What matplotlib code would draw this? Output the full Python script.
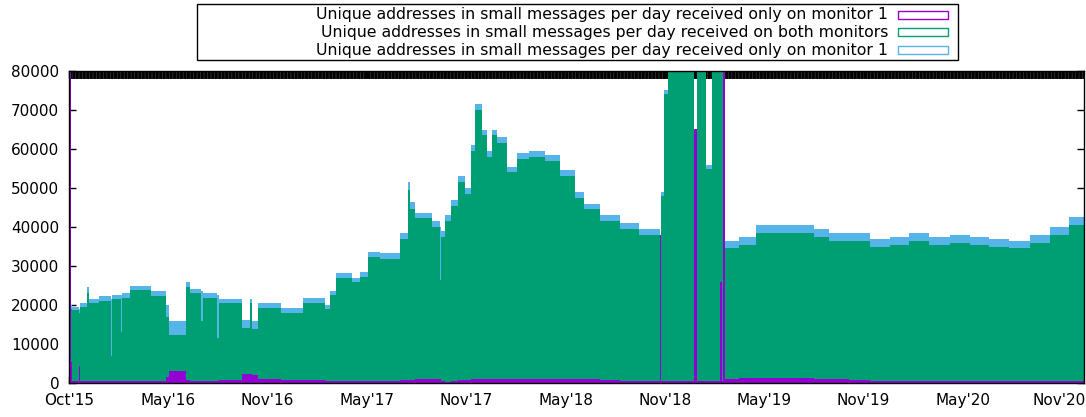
import matplotlib
matplotlib.use("Agg")
import matplotlib.pyplot as plt
from matplotlib.patches import Rectangle
from matplotlib.transforms import ScaledTranslation
import numpy as np

plt.rcParams["lines.scale_dashes"] = False

# segment start (day index from the first day) and per-segment daily counts
seg_start = [0, 3, 6, 19, 21, 33, 37, 56, 77, 79, 96, 98, 112, 150, 178, 183, 215, 222,
             243, 246, 272, 275, 318, 333, 336, 348, 390, 430, 470, 479, 490, 520, 535,
             550, 571, 608, 622, 626, 635, 667, 681, 683, 690, 702, 714, 727, 738, 746,
             758, 768, 777, 787, 804, 823, 846, 875, 902, 929, 947, 975, 1012, 1048,
             1086, 1088, 1093, 1100, 1149, 1153, 1171, 1181, 1196, 1199, 1201, 1206,
             1231, 1262, 1323, 1369, 1397, 1434, 1471, 1508, 1544, 1581, 1618, 1655,
             1691, 1728, 1765, 1802, 1838]
last_day = 1865

only_mon1 = [90000, 5500, 400, 4300, 400, 400, 400, 400, 400, 400, 400, 400, 500, 600,
             1500, 3200, 700, 600, 600, 600, 600, 700, 2300, 2300, 2000, 1100, 800, 700,
             500, 500, 400, 400, 400, 400, 500, 700, 700, 800, 1000, 1000, 1000, 400, 300,
             600, 800, 800, 900, 900, 900, 900, 900, 1000, 1000, 1000, 1100, 1100, 1000,
             1000, 900, 700, 600, 500, 38000, 500, 500, 500, 65000, 500, 500, 500, 26000,
             500, 90000, 1000, 1300, 1400, 1300, 1100, 900, 800, 600, 500, 500, 400, 400,
             400, 400, 400, 400, 400, 400]
both_mon = [0, 13500, 18400, 13700, 19100, 22600, 20100, 20600, 6600, 21100, 12600, 21400,
            23300, 21700, 15500, 9000, 23800, 22400, 15400, 21200, 10900, 19800, 11700,
            18200, 11800, 18200, 17200, 19800, 18500, 22000, 26600, 25400, 26900, 31800,
            31300, 36300, 48800, 43700, 41200, 39000, 25500, 37100, 41200, 44900, 50700,
            47700, 58600, 69100, 62600, 57100, 62600, 60500, 53000, 56500, 56900, 55900,
            52000, 46500, 43600, 40800, 38900, 37500, 0, 47500, 73500, 99500, 0, 99500,
            54500, 99500, 74000, 99500, 0, 33500, 34200, 37100, 37200, 36400, 35600, 35700,
            34400, 35000, 36000, 35100, 35600, 35100, 34600, 34100, 35600, 37600, 40100]
only_mon2 = [0, 1000, 800, 1000, 1000, 1500, 1000, 1200, 14500, 1000, 9500, 1200, 1200,
             1200, 3000, 3800, 1300, 1200, 7500, 1200, 11000, 1000, 2200, 1000, 2000, 1200,
             1200, 1300, 1000, 1000, 1200, 1200, 1200, 1400, 1500, 1500, 2000, 2000, 1500,
             1500, 13500, 1500, 1500, 1500, 1500, 1500, 1500, 1500, 1500, 1500, 1500, 1500,
             1500, 1500, 1500, 1500, 1500, 1500, 1500, 1500, 1500, 1500, 0, 1000, 1000, 0,
             0, 0, 1000, 0, 0, 0, 0, 2000, 2000, 2000, 2000, 2000, 2000, 2000, 2000, 2000,
             2000, 2000, 2000, 2000, 2000, 2000, 2000, 2000, 2000]

tick_labels = ["Oct'15", "May'16", "Nov'16", "May'17", "Nov'17", "May'18",
               "Nov'18", "May'19", "Nov'19", "May'20", "Nov'20"]
legend_labels = ["Unique addresses in small messages per day received only on monitor 1",
                 "Unique addresses in small messages per day received on both monitors",
                 "Unique addresses in small messages per day received only on monitor 1"]
colors = ["#9400D3", "#009E73", "#56B4E9"]

x = np.array(seg_start)
w = np.diff(np.append(x, last_day))
a = np.array(only_mon1)
b = np.array(both_mon)
c = np.array(only_mon2)

fig = plt.figure(figsize=(10.86, 4.17), dpi=100)
ax = fig.add_axes([69 / 1086, 34 / 417, 1015 / 1086, 312 / 417])

# dark strip along the top of the plot area
ax.axhspan(77950, 80000, facecolor="#3c3c3c", edgecolor="none", zorder=0)
ax.axhline(78975, color="black", lw=5.6, dashes=(2.0, 0.5), zorder=1)

ax.bar(x, a, width=w, align="edge", color=colors[0], linewidth=0, zorder=2)
ax.bar(x, b, width=w, bottom=a, align="edge", color=colors[1], linewidth=0, zorder=2)
ax.bar(x, c, width=w, bottom=a + b, align="edge", color=colors[2], linewidth=0, zorder=2)

ax.set_xlim(0, last_day)
ax.set_ylim(0, 80000)
ax.set_yticks(np.arange(0, 80001, 10000))
ax.set_xticks(np.arange(len(tick_labels)) * 182.5)
ax.set_xticklabels(tick_labels)
ax.tick_params(direction="in", length=5, width=1, labelsize=11, top=True, right=True, pad=7)
# keep the last date label inside the image
last_lab = ax.get_xticklabels()[-1]
last_lab.set_transform(last_lab.get_transform() + ScaledTranslation(-3 / 100, 0, fig.dpi_scale_trans))
for s in ax.spines.values():
    s.set_linewidth(1)
    s.set_zorder(5)

# legend box drawn like the gnuplot key
fig.patches.append(Rectangle((197 / 1086, 1 - 60 / 417), 761 / 1086, 56 / 417,
                             transform=fig.transFigure, facecolor="white",
                             edgecolor="black", linewidth=1))
rows_y = [15, 32, 50]
for lab, col, ry in zip(legend_labels, colors, rows_y):
    fig.text(888 / 1086, 1 - ry / 417, lab, ha="right", va="center", fontsize=11.3)
    fig.patches.append(Rectangle((898 / 1086, 1 - (ry + 4) / 417), 50 / 1086, 8 / 417,
                                 transform=fig.transFigure, facecolor="none",
                                 edgecolor=col, linewidth=1))

fig.savefig("out.png", dpi=100)
